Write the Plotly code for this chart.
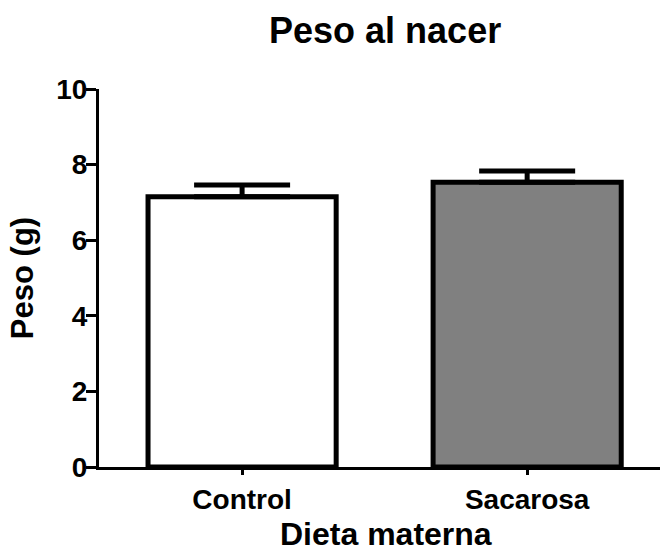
import plotly.graph_objects as go

categories = ["Control", "Sacarosa"]
means = [7.15, 7.53]
sem = [0.31, 0.30]
bar_colors = ["#FFFFFF", "#808080"]
y_ticks = [0, 2, 4, 6, 8, 10]
x_title = "Dieta materna"

FONT = "Liberation Sans, Arial, sans-serif"

fig = go.Figure()
fig.add_trace(go.Bar(
    x=categories,
    y=means,
    width=0.66,
    marker=dict(color=bar_colors, line=dict(color="black", width=5)),
    error_y=dict(type="data", array=sem, arrayminus=[0, 0], symmetric=False,
                 color="black", thickness=5, width=48),
    showlegend=False,
))

fig.update_layout(
    width=660, height=551,
    margin=dict(l=99, r=0, t=89, b=84),
    paper_bgcolor="white", plot_bgcolor="white",
    font=dict(family=FONT, color="black"),
    title=dict(text="Peso al nacer", x=0.51, xref="paper", xanchor="center",
               y=1 - 30 / 551, yref="container", yanchor="middle",
               font=dict(size=36, family=FONT, weight="bold", color="black")),
    bargap=0.3,
    annotations=[dict(text=x_title, xref="paper", yref="paper",
                      x=0.512, y=-0.178, xanchor="center", yanchor="middle",
                      showarrow=False, borderpad=0,
                      font=dict(size=32, family=FONT, weight="bold", color="black"))],
)

fig.update_xaxes(
    type="category", range=[-0.502, 1.466], automargin=False,
    showline=True, linecolor="black", linewidth=3,
    ticks="outside", ticklen=5, tickwidth=3, tickcolor="black",
    tickfont=dict(size=28, family=FONT, weight="bold", color="black"),
    showgrid=False, zeroline=False,
)
fig.update_yaxes(
    range=[0, 10], tickvals=y_ticks, automargin=False,
    showline=True, linecolor="black", linewidth=3,
    ticks="outside", ticklen=10, tickwidth=3, tickcolor="black",
    ticklabelstandoff=-7,
    tickfont=dict(size=28, family=FONT, weight="bold", color="black"),
    showgrid=False, zeroline=False,
    title=dict(text="Peso (g)", standoff=14,
               font=dict(size=31, family=FONT, weight="bold", color="black")),
)

fig.write_html("out.html")
